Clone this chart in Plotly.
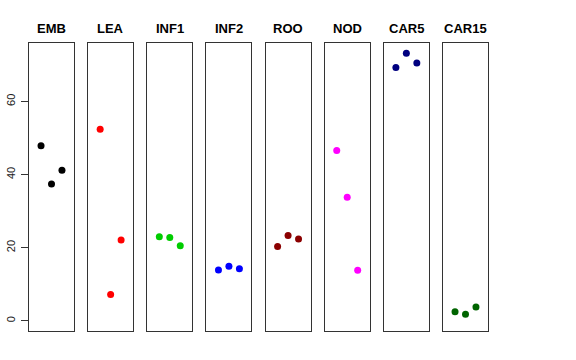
import plotly.graph_objects as go

categories = ["EMB", "LEA", "INF1", "INF2", "ROO", "NOD", "CAR5", "CAR15"]
values = [
    [47.9, 37.4, 41.2],
    [52.4, 7.2, 22.1],
    [23.0, 22.8, 20.5],
    [13.9, 14.9, 14.2],
    [20.3, 23.3, 22.4],
    [46.6, 33.8, 13.8],
    [69.3, 73.2, 70.5],
    [2.5, 1.8, 3.8],
]
colors = ["#000000", "#FF0000", "#00CD00", "#0000FF", "#8B0000", "#FF00FF", "#000080", "#006400"]
replicates = [1, 2, 3]
y_ticks = [0, 20, 40, 60]

W, H = 576, 360
left, right, top, bottom = 29, 488, 43, 331
n = len(categories)
pw = 45.0
gap = (right - left - n * pw) / (n - 1)

fig = go.Figure()
layout = dict(
    width=W, height=H,
    margin=dict(l=left, r=W - right, t=top, b=H - bottom, pad=0, autoexpand=False),
    paper_bgcolor="white", plot_bgcolor="white",
    showlegend=False,
    font=dict(family="Liberation Sans, Arial, sans-serif", color="black"),
)
annotations = []
for i, (cat, vals, col) in enumerate(zip(categories, values, colors)):
    idx = "" if i == 0 else str(i + 1)
    x0 = (i * (pw + gap)) / (right - left)
    x1 = (i * (pw + gap) + pw) / (right - left)
    fig.add_trace(go.Scatter(
        x=replicates, y=vals, mode="markers",
        marker=dict(color=col, size=7),
        xaxis="x" + idx, yaxis="y" + idx, hoverinfo="y",
    ))
    layout["xaxis" + idx] = dict(
        domain=[x0, x1], range=[-0.15, 4.15], showticklabels=False, ticks="",
        showgrid=False, zeroline=False, showline=True, mirror=True,
        linecolor="#333333", linewidth=1, anchor="y" + idx, fixedrange=True,
        automargin=False,
    )
    ya = dict(
        range=[-2.8, 76.0], showgrid=False, zeroline=False, showline=True,
        mirror=True, linecolor="#333333", linewidth=1, anchor="x" + idx,
        domain=[0, 1], fixedrange=True, automargin=False,
    )
    if i == 0:
        ya.update(tickvals=y_ticks, ticks="outside", ticklen=7, tickcolor="#333333",
                  tickangle=-90, tickfont=dict(size=11, color="#222222"),
                  ticklabelstandoff=2)
    else:
        ya.update(showticklabels=False, ticks="")
    layout["yaxis" + idx] = ya
    annotations.append(dict(
        text="<b>" + cat + "</b>", x=(x0 + x1) / 2, y=1, xref="paper", yref="paper",
        xanchor="center", yanchor="bottom", yshift=5, showarrow=False,
        font=dict(size=13, color="black"),
    ))
layout["annotations"] = annotations
fig.update_layout(**layout)
fig.write_html("out.html", config={"displayModeBar": False},
               post_script="document.body.style.margin='0px';document.body.style.overflow='hidden';")
